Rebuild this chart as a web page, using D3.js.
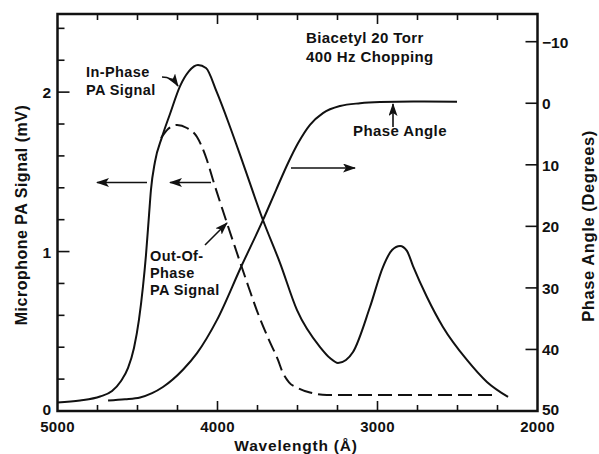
<!DOCTYPE html>
<html>
<head>
<meta charset="utf-8">
<script src="https://cdn.jsdelivr.net/npm/d3@7"></script>
<style>
  html, body { margin: 0; padding: 0; background: #fff; }
  svg { display: block; }
  text { font-family: "Liberation Sans", Arial, Helvetica, sans-serif; font-weight: bold; fill: #111; }
</style>
</head>
<body>
<svg id="chart" width="599" height="454"></svg>
<script>
// Photoacoustic spectrum of biacetyl: wavelength in Å, signal in mV, phase in degrees.
const inPhaseWavelength = [5000, 4859, 4734, 4659, 4603, 4559, 4522, 4491, 4466, 4447, 4428, 4416, 4391, 4347, 4297, 4234, 4178, 4122, 4072, 4005, 3922, 3841, 3716, 3609, 3503, 3359, 3297, 3247, 3197, 3153, 3047, 2966, 2909, 2859, 2816, 2778, 2691, 2591, 2441, 2316, 2184];
const inPhaseSignal     = [0.053, 0.066, 0.091, 0.125, 0.188, 0.270, 0.395, 0.571, 0.778, 0.978, 1.229, 1.386, 1.562, 1.718, 1.863, 2.038, 2.132, 2.170, 2.151, 2.001, 1.783, 1.555, 1.198, 0.928, 0.633, 0.401, 0.332, 0.301, 0.320, 0.370, 0.652, 0.903, 1.010, 1.035, 1.004, 0.909, 0.715, 0.527, 0.320, 0.182, 0.088];

const outPhaseWavelength = [4353, 4309, 4253, 4191, 4128, 4066, 4028, 3941, 3891, 3806, 3755, 3684, 3622, 3594, 3553, 3497, 3422, 3316, 3000, 2600, 2263];
const outPhaseSignal     = [1.712, 1.769, 1.794, 1.775, 1.719, 1.574, 1.449, 1.179, 1.029, 0.778, 0.633, 0.458, 0.320, 0.245, 0.180, 0.144, 0.116, 0.100, 0.100, 0.100, 0.100];

const phaseWavelength = [4684, 4578, 4484, 4409, 4341, 4216, 4128, 4003, 3853, 3716, 3634, 3559, 3497, 3422, 3341, 3234, 3109, 2984, 2778, 2503];
const phaseAngle      = [48.3, 48.1, 47.8, 47.1, 46.1, 43.3, 40.6, 35.2, 26.6, 19.0, 14.1, 9.7, 6.5, 3.5, 1.6, 0.45, 0.0, -0.2, -0.3, -0.25];

const wavelengthTicks = [5000, 4000, 3000, 2000];
const wavelengthMinorTicks = [4750, 4500, 4250, 3750, 3500, 3250, 2750, 2500, 2250];
const signalTicks = [0, 1, 2];
const signalMinorTicks = [0.2, 0.4, 0.6, 0.8, 1.2, 1.4, 1.6, 1.8, 2.2, 2.4];
const phaseTicks = [-10, 0, 10, 20, 30, 40, 50];

const svg = d3.select("#chart");
const plotLeft = 57.5, plotRight = 537.5, plotTop = 14, plotBottom = 411;

const x = d3.scaleLinear().domain([5000, 2000]).range([plotLeft, plotRight]);
const yL = d3.scaleLinear().domain([0, 2.49]).range([plotBottom, plotTop]);
const yR = d3.scaleLinear().domain([50, -14.5]).range([plotBottom, plotTop]);

// arrow marker
const defs = svg.append("defs");
defs.append("marker").attr("id", "head")
  .attr("viewBox", "0 0 13 9").attr("refX", 12).attr("refY", 4.5)
  .attr("markerWidth", 13).attr("markerHeight", 9).attr("markerUnits", "userSpaceOnUse")
  .attr("orient", "auto")
  .append("path").attr("d", "M0,0 L13,4.5 L0,9 L3,4.5 Z").attr("fill", "#111");

// frame
svg.append("rect").attr("x", plotLeft).attr("y", plotTop)
  .attr("width", plotRight - plotLeft).attr("height", plotBottom - plotTop)
  .attr("fill", "none").attr("stroke", "#111").attr("stroke-width", 2.5);

// ticks (all pointing inward)
const tickG = svg.append("g").attr("stroke", "#111").attr("stroke-width", 1.6);
function vTick(xv, len, atTop) {
  const px = x(xv);
  tickG.append("line").attr("x1", px).attr("x2", px)
    .attr("y1", atTop ? plotTop : plotBottom).attr("y2", atTop ? plotTop + len : plotBottom - len);
}
wavelengthTicks.forEach(v => { if (v !== 5000 && v !== 2000) { vTick(v, 10, false); vTick(v, 10, true); } });
wavelengthMinorTicks.forEach(v => { vTick(v, 6, false); vTick(v, 6, true); });
signalTicks.forEach(v => {
  tickG.append("line").attr("x1", plotLeft).attr("x2", plotLeft + 12).attr("y1", yL(v)).attr("y2", yL(v));
});
signalMinorTicks.forEach(v => {
  tickG.append("line").attr("x1", plotLeft).attr("x2", plotLeft + 7).attr("y1", yL(v)).attr("y2", yL(v));
});
phaseTicks.filter(v => v !== 50).forEach(v => {
  tickG.append("line").attr("x1", plotRight).attr("x2", plotRight - 12).attr("y1", yR(v)).attr("y2", yR(v));
});

// tick labels
const fs = 15;
wavelengthTicks.forEach(v => {
  svg.append("text").attr("x", x(v)).attr("y", 431.5).attr("text-anchor", "middle")
    .attr("font-size", fs).attr("letter-spacing", 0.3).text(v);
});
signalTicks.forEach(v => {
  svg.append("text").attr("x", 51).attr("y", yL(v) + (v === 0 ? 3.5 : 6)).attr("text-anchor", "end")
    .attr("font-size", fs + 0.5).text(v);
});
phaseTicks.forEach(v => {
  svg.append("text").attr("x", 542).attr("y", yR(v) + (v === 50 ? 3.5 : 6)).attr("text-anchor", "start")
    .attr("font-size", fs + 0.5).text(v === -10 ? "\u221210" : v);
});

// axis titles
svg.append("text").attr("x", 296).attr("y", 451).attr("text-anchor", "middle")
  .attr("font-size", 15.5).attr("letter-spacing", 0.8).text("Wavelength (Å)");
svg.append("text").attr("transform", "translate(27,215) rotate(-90)").attr("text-anchor", "middle")
  .attr("font-size", 16).attr("letter-spacing", 0.5).text("Microphone PA Signal (mV)");
svg.append("text").attr("transform", "translate(594,226) rotate(-90)").attr("text-anchor", "middle")
  .attr("font-size", 16.5).attr("letter-spacing", 0.6).text("Phase Angle (Degrees)");

// curves
const line = d3.line().curve(d3.curveMonotoneX);
const inPhasePts = inPhaseWavelength.map((w, i) => [x(w), yL(inPhaseSignal[i])]);
const outPhasePts = outPhaseWavelength.map((w, i) => [x(w), yL(outPhaseSignal[i])]);
const phasePts = phaseWavelength.map((w, i) => [x(w), yR(phaseAngle[i])]);

svg.append("path").attr("d", line(inPhasePts)).attr("fill", "none")
  .attr("stroke", "#111").attr("stroke-width", 2);
svg.append("path").attr("d", line(outPhasePts)).attr("fill", "none")
  .attr("stroke", "#111").attr("stroke-width", 2).attr("stroke-dasharray", "14,6");
svg.append("path").attr("d", line(phasePts)).attr("fill", "none")
  .attr("stroke", "#111").attr("stroke-width", 2);

// annotations
const ann = svg.append("g");
function label(lines, x0, y0, dy, size) {
  lines.forEach((t, i) => ann.append("text").attr("x", x0).attr("y", y0 + i * dy)
    .attr("font-size", size).attr("letter-spacing", 0.4).text(t));
}
label(["In-Phase", "PA Signal"], 86, 77, 17.5, 14.5);
label(["Out-Of-", "Phase", "PA Signal"], 150, 261, 16.8, 14.5);
label(["Biacetyl 20 Torr", "400 Hz Chopping"], 306, 43, 18.5, 15);
label(["Phase Angle"], 353, 136, 0, 15);

function arrow(d) {
  ann.append("path").attr("d", d).attr("fill", "none").attr("stroke", "#111")
    .attr("stroke-width", 1.6).attr("marker-end", "url(#head)");
}
arrow("M162,77 Q172,77 178,86");
arrow("M205,245 L227,223");
arrow("M393,127 L393,104");
arrow("M147,182.5 L97,182.5");
arrow("M211,182.5 L170,182.5");
arrow("M291,168 L355,168");
</script>
</body>
</html>
